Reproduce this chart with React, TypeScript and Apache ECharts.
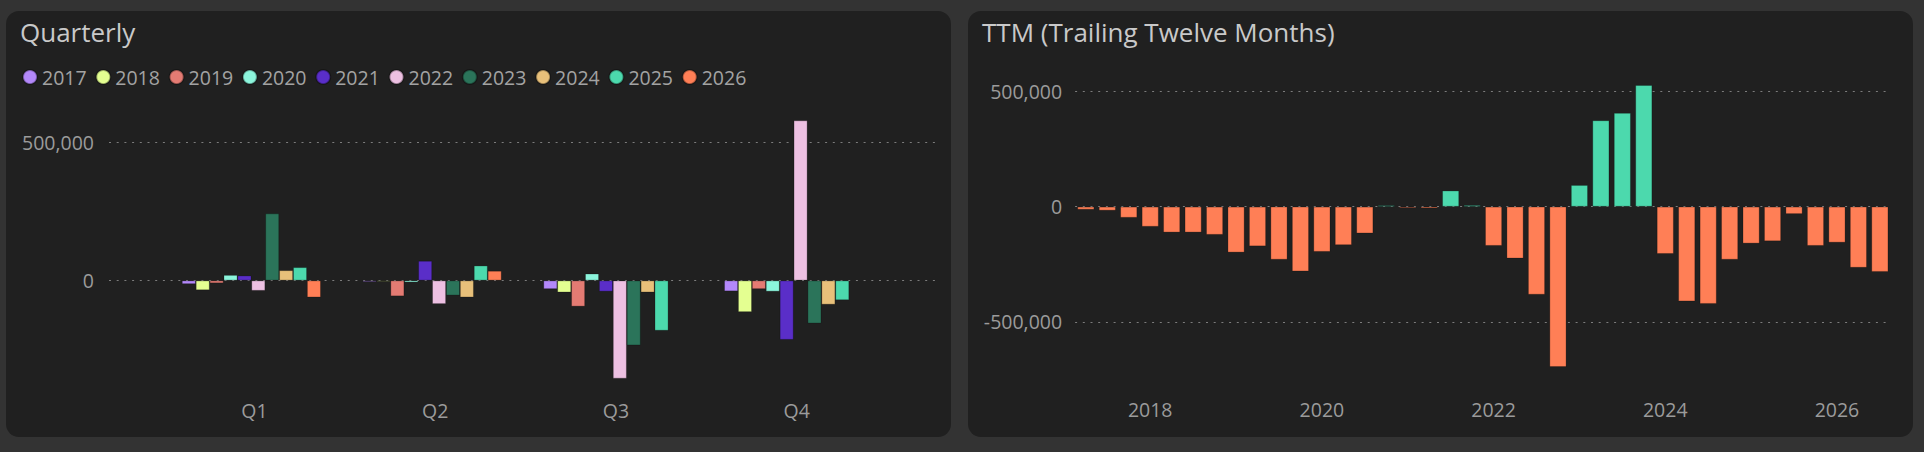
import React, { useEffect, useRef } from "react";
import * as echarts from "echarts";

// ---------- data ----------
const YEARS = ["2017", "2018", "2019", "2020", "2021", "2022", "2023", "2024", "2025", "2026"];
const QUARTERS = ["Q1", "Q2", "Q3", "Q4"];

const V2017 = [-13000, -5000, -31000, -39000];
const V2018 = [-35000, -4000, -43000, -114000];
const V2019 = [-10000, -57000, -94000, -31000];
const V2020 = [20000, -7000, 25000, -40000];
const V2021 = [18000, 71000, -40000, -214000];
const V2022 = [-37000, -85000, -354000, 578000];
const V2023 = [242000, -54000, -234000, -155000];
const V2024 = [37000, -61000, -43000, -87000];
const V2025 = [48000, 54000, -181000, -71000];
const V2026 = [-61000, 35000, null, null];
const YEAR_VALUES = [V2017, V2018, V2019, V2020, V2021, V2022, V2023, V2024, V2025, V2026];

const YEAR_COLORS = [
  "#b388fa", "#e4ff91", "#e47b73", "#8cf5dc", "#5a2ec8",
  "#edc0e2", "#2b745a", "#e8c07a", "#4cd9ad", "#ff7f56",
];

const Q_TICKS = [0, 500000];

const TTM_DATES = [
  "2017-03-31", "2017-06-30", "2017-09-30", "2017-12-31",
  "2018-03-31", "2018-06-30", "2018-09-30", "2018-12-31",
  "2019-03-31", "2019-06-30", "2019-09-30", "2019-12-31",
  "2020-03-31", "2020-06-30", "2020-09-30", "2020-12-31",
  "2021-03-31", "2021-06-30", "2021-09-30", "2021-12-31",
  "2022-03-31", "2022-06-30", "2022-09-30", "2022-12-31",
  "2023-03-31", "2023-06-30", "2023-09-30", "2023-12-31",
  "2024-03-31", "2024-06-30", "2024-09-30", "2024-12-31",
  "2025-03-31", "2025-06-30", "2025-09-30", "2025-12-31",
  "2026-03-31", "2026-06-30",
];
const TTM_VALUES = [
  -13000, -17000, -48000, -87000, -112000, -112000, -122000, -199000, -172000, -230000,
  -281000, -196000, -167000, -116000, 6000, -6000, -7000, 70000, 7000, -170000,
  -225000, -382000, -696000, 94000, 375000, 407000, 528000, -205000, -411000, -422000,
  -230000, -160000, -150000, -32000, -170000, -156000, -265000, -283000,
];
const TTM_TICK_LABELS = ["2018", "2020", "2022", "2024", "2026"];
const TTM_TICKS = [-500000, 0, 500000];
const POS_COLOR = "#4cd9ad";
const NEG_COLOR = "#ff7f56";

// ---------- style ----------
const FONT = "'Segoe UI', 'Open Sans', sans-serif";
const LABEL_COLOR = "#9b9b9b";
const TITLE_COLOR = "#c9c9c9";
const PANEL = "#202020";
const DOT_LINE = { type: [2, 5.7] as any, color: "#7c7c7c", width: 1 };
const BAR_BORDER = { borderColor: "rgba(0,0,0,0.3)", borderWidth: 0.8 };

const fmt = (v: number) => v.toLocaleString("en-US");

const ttmYearLabel = (date: string) => {
  if (!date.endsWith("-12-31")) return "";
  const y = String(Number(date.slice(0, 4)) + 1);
  return TTM_TICK_LABELS.includes(y) ? y : "";
};

export default function App() {
  const ref = useRef<HTMLDivElement>(null);

  useEffect(() => {
    if (!ref.current) return;
    const chart = echarts.init(ref.current, undefined, { renderer: "svg" });

    const yearSeries = YEARS.map((y, i) => ({
      name: y,
      type: "bar",
      xAxisIndex: 1,
      yAxisIndex: 1,
      data: YEAR_VALUES[i],
      barWidth: 13.9,
      barGap: "0%",
      z: 2,
      itemStyle: { color: YEAR_COLORS[i], ...BAR_BORDER },
    }));

    const option: any = {
      animation: false,
      backgroundColor: "#333333",
      textStyle: { fontFamily: FONT },
      graphic: [
        { type: "rect", silent: true, z: 0, shape: { x: 6, y: 11, width: 945, height: 426, r: 13 }, style: { fill: PANEL } },
        { type: "rect", silent: true, z: 0, shape: { x: 968, y: 11, width: 945, height: 426, r: 13 }, style: { fill: PANEL } },
      ],
      title: [
        {
          text: "Quarterly",
          left: 20,
          top: 19,
          padding: 0,
          textStyle: { color: TITLE_COLOR, fontSize: 26, fontWeight: "normal", fontFamily: FONT },
        },
        {
          text: "TTM (Trailing Twelve Months)",
          left: 982,
          top: 19,
          padding: 0,
          textStyle: { color: TITLE_COLOR, fontSize: 26, fontWeight: "normal", fontFamily: FONT },
        },
      ],
      legend: {
        data: YEARS,
        left: 22,
        top: 67,
        padding: 0,
        icon: "circle",
        itemWidth: 14,
        itemHeight: 14,
        itemGap: 8.7,
        textStyle: { color: "#a3a3a3", fontSize: 19.5, fontFamily: FONT },
        selectedMode: false,
      },
      grid: [
        { left: 109, top: 114.3, width: 827, height: 277 },
        { left: 161, top: 114.3, width: 723, height: 277 },
        { left: 1075.1, top: 68.5, width: 815.5, height: 322.4 },
      ],
      xAxis: [
        { gridIndex: 0, type: "value", min: 0, max: 1, show: false },
        {
          gridIndex: 1,
          type: "category",
          data: QUARTERS,
          axisLine: { show: false },
          axisTick: { show: false },
          splitLine: { show: false },
          axisLabel: { color: LABEL_COLOR, fontSize: 19.5, margin: 9, fontFamily: FONT, padding: [0, 0, 0, 6] },
        },
        {
          gridIndex: 2,
          type: "category",
          data: TTM_DATES,
          axisLine: { show: false },
          axisTick: { show: false },
          splitLine: { show: false },
          axisLabel: {
            color: LABEL_COLOR,
            fontSize: 19.5,
            margin: 9,
            fontFamily: FONT,
            interval: (_i: number, v: string) => ttmYearLabel(v) !== "",
            formatter: (v: string) => ttmYearLabel(v),
          },
        },
      ],
      yAxis: [
        {
          gridIndex: 0,
          type: "value",
          min: -400000,
          max: 600000,
          interval: 100000,
          axisLine: { show: false },
          axisTick: { show: false },
          splitLine: { show: false },
          axisLabel: {
            color: LABEL_COLOR,
            fontSize: 19.5,
            margin: 15,
            fontFamily: FONT,
            formatter: (v: number) => (Q_TICKS.includes(v) ? fmt(v) : ""),
          },
        },
        { gridIndex: 1, type: "value", min: -400000, max: 600000, show: false },
        {
          gridIndex: 2,
          type: "value",
          min: -800000,
          max: 600000,
          interval: 100000,
          axisLine: { show: false },
          axisTick: { show: false },
          splitLine: { show: false },
          axisLabel: {
            color: LABEL_COLOR,
            fontSize: 19.5,
            margin: 13,
            fontFamily: FONT,
            formatter: (v: number) => (TTM_TICKS.includes(v) ? fmt(v) : ""),
          },
        },
      ],
      series: [
        {
          name: "qgrid",
          type: "line",
          xAxisIndex: 0,
          yAxisIndex: 0,
          data: [[0, 0]],
          symbol: "none",
          silent: true,
          lineStyle: { opacity: 0 },
          z: 1,
          markLine: {
            silent: true,
            symbol: "none",
            z: 1,
            label: { show: false },
            lineStyle: DOT_LINE,
            data: Q_TICKS.map((v) => ({ yAxis: v })),
          },
        },
        ...yearSeries,
        {
          name: "TTM",
          type: "bar",
          xAxisIndex: 2,
          yAxisIndex: 2,
          barWidth: 17,
          z: 2,
          data: TTM_VALUES.map((v) => ({
            value: v,
            itemStyle: { color: v >= 0 ? POS_COLOR : NEG_COLOR },
          })),
          itemStyle: { ...BAR_BORDER },
          markLine: {
            silent: true,
            symbol: "none",
            z: 1,
            label: { show: false },
            lineStyle: DOT_LINE,
            data: TTM_TICKS.map((v) => ({ yAxis: v })),
          },
        },
      ],
    };

    chart.setOption(option);
    return () => chart.dispose();
  }, []);

  return (
    <div
      ref={ref}
      style={{ position: "fixed", left: 0, top: 0, width: 1924, height: 452 }}
    />
  );
}
